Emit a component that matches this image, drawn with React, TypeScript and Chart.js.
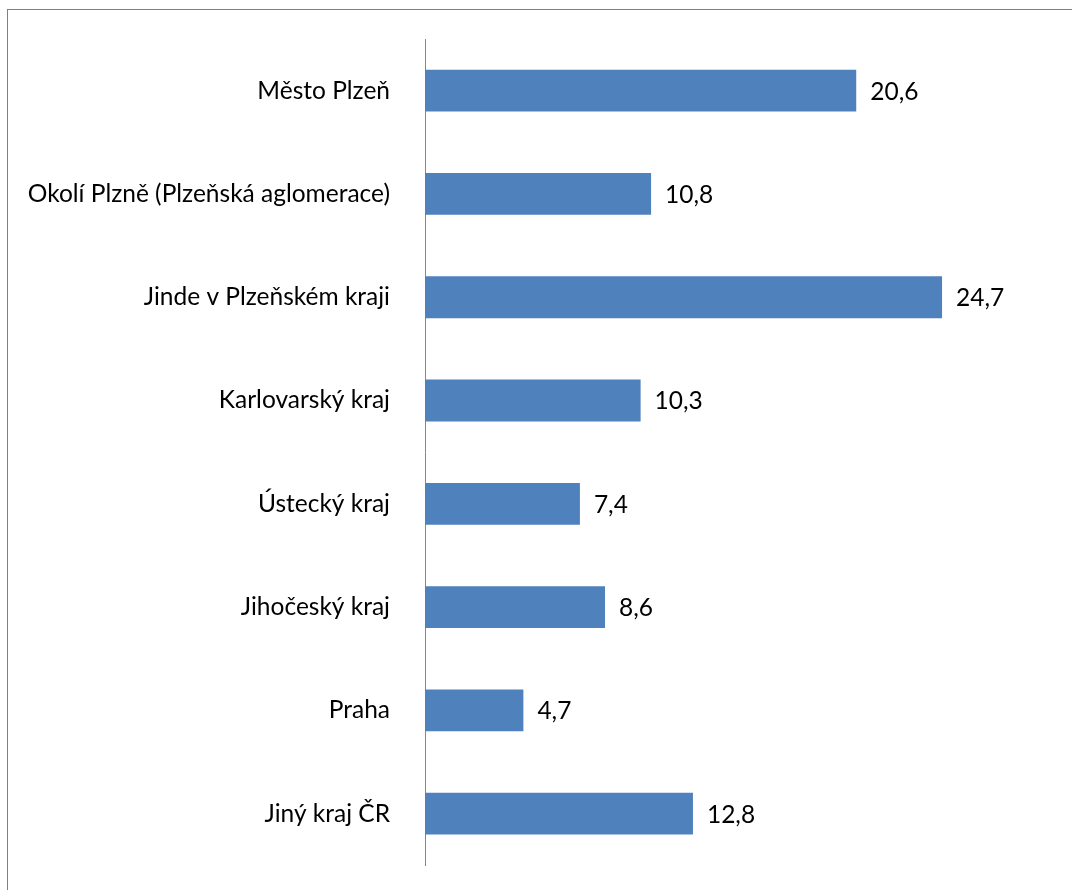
import React, { useEffect, useRef } from "react";
import { Chart, registerables } from "chart.js";

Chart.register(...registerables);

const categories = [
  "Město Plzeň",
  "Okolí Plzně (Plzeňská aglomerace)",
  "Jinde v Plzeňském kraji",
  "Karlovarský kraj",
  "Ústecký kraj",
  "Jihočeský kraj",
  "Praha",
  "Jiný kraj ČR",
];
const values = [20.6, 10.8, 24.7, 10.3, 7.4, 8.6, 4.7, 12.8];

const FONT = "Lato, 'Open Sans', sans-serif";
const FONT_SIZE = 24.5;

const valueLabels = {
  id: "valueLabels",
  afterDatasetsDraw(chart: any) {
    const ctx = chart.ctx;
    const meta = chart.getDatasetMeta(0);
    ctx.save();
    ctx.font = `${FONT_SIZE}px ${FONT}`;
    ctx.fillStyle = "#000";
    ctx.textAlign = "left";
    ctx.textBaseline = "middle";
    meta.data.forEach((bar: any, i: number) => {
      const txt = values[i].toFixed(1).replace(".", ",");
      ctx.fillText(txt, bar.x + 14, bar.y + 1);
    });
    ctx.restore();
  },
};

export default function App() {
  const ref = useRef<HTMLCanvasElement>(null);
  useEffect(() => {
    if (!ref.current) return;
    const chart = new Chart(ref.current, {
      type: "bar",
      data: {
        labels: categories,
        datasets: [
          {
            data: values,
            backgroundColor: "#4F81BD",
            borderWidth: 0,
            categoryPercentage: 1,
            barPercentage: 0.405,
          },
        ],
      },
      options: {
        indexAxis: "y",
        animation: false,
        responsive: false,
        layout: { padding: { top: 29, bottom: 13, right: 11, left: 0 } },
        plugins: { legend: { display: false }, tooltip: { enabled: false } },
        scales: {
          x: { display: false, min: 0, max: 30 },
          y: {
            afterFit: (s: any) => {
              s.width = 417;
            },
            grid: { display: false, drawTicks: true, tickLength: 35 },
            border: { display: true, color: "#868686", width: 1 },
            ticks: { padding: 0, color: "#000", font: { family: FONT, size: FONT_SIZE } },
          },
        },
      },
      plugins: [valueLabels],
    });
    return () => chart.destroy();
  }, []);
  return (
    <div style={{ position: "relative", width: 1056, height: 880 }}>
      <div
        style={{
          position: "fixed",
          left: 7,
          top: 9,
          width: 1100,
          height: 1000,
          border: "1px solid #7f7f7f",
          pointerEvents: "none",
        }}
      />
      <canvas
        ref={ref}
        width={1056}
        height={870}
        style={{ display: "block", position: "absolute", left: 0, top: 2 }}
      />
    </div>
  );
}
